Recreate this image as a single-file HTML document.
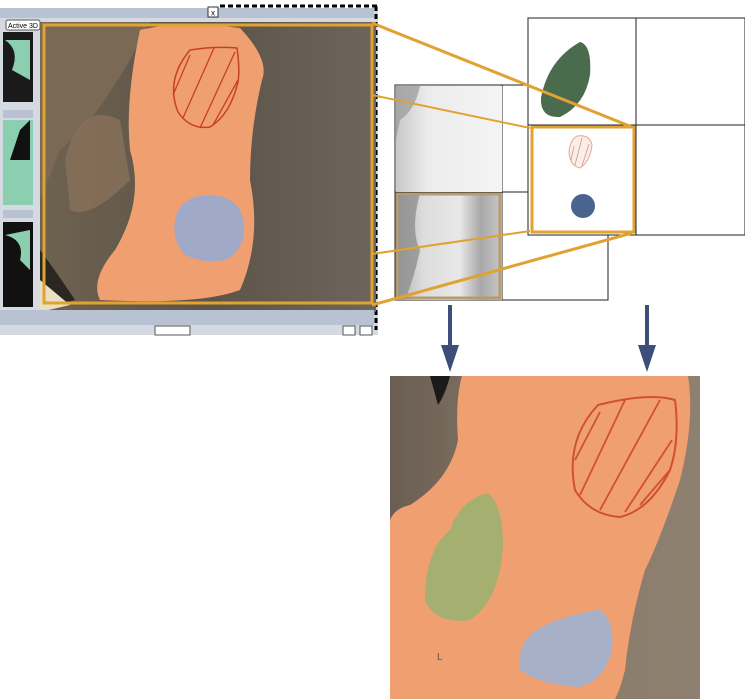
<!DOCTYPE html>
<html><head><meta charset="utf-8"><style>
html,body{margin:0;padding:0;background:#fff;width:745px;height:699px;overflow:hidden}
svg{display:block;font-family:"Liberation Sans",sans-serif}
</style></head><body>
<svg width="745" height="699" viewBox="0 0 745 699">
<defs>
<linearGradient id="bg1" x1="0" x2="1"><stop offset="0" stop-color="#6e6250"/><stop offset="0.5" stop-color="#5d5448"/><stop offset="1" stop-color="#6d655c"/></linearGradient>
<linearGradient id="bg2" x1="0" x2="1"><stop offset="0" stop-color="#6a5e52"/><stop offset="0.5" stop-color="#8a7a6a"/><stop offset="1" stop-color="#8e8070"/></linearGradient>
<linearGradient id="gr1" x1="0" x2="1"><stop offset="0" stop-color="#c8c8c8"/><stop offset="0.3" stop-color="#ececec"/><stop offset="1" stop-color="#f4f4f4"/></linearGradient>
<linearGradient id="gr2" x1="0" x2="1"><stop offset="0" stop-color="#b0b0b0"/><stop offset="0.25" stop-color="#dcdcdc"/><stop offset="0.6" stop-color="#e8e8e8"/><stop offset="0.8" stop-color="#a8a8a8"/><stop offset="1" stop-color="#c8c8c8"/></linearGradient>
</defs>
<g>
<rect x="0" y="8" width="378" height="327" fill="#d5dae2"/>
<line x1="220" y1="6" x2="378" y2="6" stroke="#000" stroke-width="3" stroke-dasharray="5,3"/>
<line x1="376" y1="6" x2="376" y2="330" stroke="#000" stroke-width="3" stroke-dasharray="5,3"/>
<rect x="0" y="8" width="374" height="10" fill="#b8c2d2"/>
<rect x="208" y="7" width="10" height="10" fill="#fff" stroke="#333"/>
<text x="213" y="15.5" font-size="8" text-anchor="middle">x</text>
<rect x="6" y="20" width="34" height="10" fill="#fff" stroke="#555" rx="2"/>
<text x="23" y="28" font-size="7" text-anchor="middle">Active 3D</text>
<rect x="3" y="32" width="30" height="70" fill="#1a1a1a"/><path d="M5 40 Q20 50 12 70 L30 80 L30 40Z" fill="#8ccfb0"/>
<rect x="3" y="110" width="30" height="8" fill="#b8c2d2"/>
<rect x="3" y="120" width="30" height="85" fill="#8ccfb0"/><path d="M20 130 L30 120 L30 160 L10 160Z" fill="#111"/>
<rect x="3" y="210" width="30" height="8" fill="#b8c2d2"/>
<rect x="3" y="222" width="30" height="85" fill="#111"/><path d="M5 235 Q25 240 20 260 L30 270 L30 230Z" fill="#8ccfb0"/>
<rect x="40" y="22" width="336" height="290" fill="url(#bg1)"/>
<path d="M40 22 L150 22 Q100 120 60 150 L40 200Z" fill="#7a6a55"/>
<path d="M65 160 Q80 100 120 120 L130 180 Q90 220 70 210Z" fill="#88705a" opacity="0.8"/>
<path d="M40 250 Q55 270 75 300 L40 310Z" fill="#2a2622"/>
<path d="M40 280 L70 305 L40 312Z" fill="#e8e0c0"/>
<path d="M140 30 Q180 20 240 28 Q270 60 262 80 Q250 130 250 180 Q262 240 240 290 Q200 305 100 300 Q90 280 115 250 Q145 200 130 150 Q125 100 140 30Z" fill="#f0a070"/>
<path d="M190 50 Q215 46 237 48 Q240 70 238 82 Q230 115 210 127 Q190 130 178 112 Q165 80 190 50Z" fill="none" stroke="#c8401e" stroke-width="1.5"/>
<path d="M190 55 L173 95 M214 48 L183 118 M235 52 L200 128 M238 80 L213 125" stroke="#c8401e" stroke-width="1.3"/>
<path d="M200 196 Q228 192 240 210 Q252 240 230 258 Q210 266 185 255 Q168 236 178 210 Q186 198 200 196Z" fill="#a0aac8"/>
<rect x="44" y="25" width="328" height="278" fill="none" stroke="#e0a230" stroke-width="3"/>
<rect x="0" y="310" width="374" height="15" fill="#b8c2d2"/>
<rect x="155" y="326" width="35" height="9" fill="#fff" stroke="#555"/>
<rect x="343" y="326" width="12" height="9" fill="#fff" stroke="#555"/><rect x="360" y="326" width="12" height="9" fill="#fff" stroke="#555"/>
</g>
<g>
<rect x="395" y="85" width="213" height="215" fill="#fff" stroke="#222"/>
<line x1="502" y1="85" x2="502" y2="300" stroke="#222"/><line x1="395" y1="192" x2="528" y2="192" stroke="#222"/>
<rect x="396" y="86" width="106" height="106" fill="url(#gr1)"/>
<path d="M396 86 L420 86 Q415 110 400 120 L396 140Z" fill="#999" opacity="0.7"/>
<rect x="396" y="193" width="106" height="107" fill="url(#gr2)"/>
<path d="M396 193 L420 193 Q410 230 420 250 Q415 275 405 300 L396 300Z" fill="#888" opacity="0.7"/>
<rect x="397" y="194" width="103" height="104" fill="none" stroke="#b89a70" stroke-width="3"/>
</g>
<g>
<rect x="528" y="18" width="217" height="217" fill="#fff" stroke="#222"/>
<line x1="636" y1="18" x2="636" y2="235" stroke="#222"/><line x1="528" y1="125" x2="745" y2="125" stroke="#222"/>
<path d="M580 42 Q592 45 590 75 Q585 105 560 117 Q540 118 541 98 Q548 60 580 42Z" fill="#4a6b4e"/>
<rect x="532" y="127" width="102" height="105" fill="#fff" stroke="#e0a230" stroke-width="3"/>
<path d="M577 136 Q590 134 592 145 Q590 162 580 168 Q570 166 569 152 Q570 140 577 136Z" fill="#fbeee8" stroke="#e5a58a" stroke-width="1"/>
<path d="M574 146 L571 160 M582 138 L575 165 M589 144 L582 166" stroke="#c89a8a" stroke-width="0.8"/>
<ellipse cx="583" cy="206" rx="12" ry="12" fill="#4a6490"/>
</g>
<g stroke="#e0a230" fill="none">
<line x1="372" y1="23" x2="632" y2="127" stroke-width="3"/>
<line x1="372" y1="95" x2="530" y2="128" stroke-width="2"/>
<line x1="372" y1="254" x2="530" y2="231" stroke-width="2"/>
<line x1="372" y1="305" x2="632" y2="233" stroke-width="3"/>
</g>
<g fill="#3e4e7a">
<rect x="448" y="305" width="4" height="45"/><path d="M441 345 L459 345 L450 372Z"/>
<rect x="645" y="305" width="4" height="45"/><path d="M638 345 L656 345 L647 372Z"/>
</g>
<g>
<rect x="390" y="376" width="310" height="323" fill="url(#bg2)"/>
<path d="M430 376 L450 376 Q445 395 438 405Z" fill="#1a1a1a"/>
<path d="M462 376 L688 376 Q695 420 680 480 Q660 540 645 570 Q630 620 625 670 Q620 690 615 699 L390 699 L390 520 Q395 508 410 505 Q450 480 458 440 Q455 400 462 376Z" fill="#f0a070"/>
<path d="M598 405 Q650 392 675 400 Q680 440 670 470 Q650 510 620 517 Q590 515 575 490 Q565 440 598 405Z" fill="none" stroke="#d05030" stroke-width="2"/>
<path d="M600 412 L575 460 M625 400 L580 495 M660 400 L600 510 M672 440 L625 512 M670 470 L640 505" stroke="#d05030" stroke-width="1.8"/>
<path d="M488 493 Q503 505 503 545 Q500 600 470 620 Q435 625 425 600 Q425 550 450 530 Q460 500 488 493Z" fill="#a0b070" opacity="0.95"/>
<path d="M600 610 Q615 620 612 650 Q605 680 580 687 Q540 685 520 670 Q515 640 545 625 Q575 612 600 610Z" fill="#a8b0c8"/>
<text x="437" y="660" font-size="10" fill="#555">L</text>
</g>
</svg>
</body></html>
